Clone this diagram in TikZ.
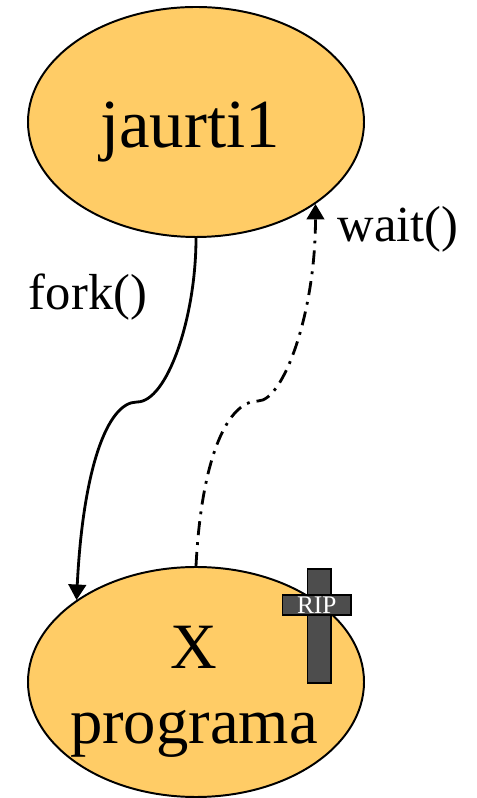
\documentclass[tikz,border=0pt]{standalone}
\usepackage{fontspec}
\setmainfont{Liberation Serif}
\usepackage{xcolor}
\usetikzlibrary{shapes.geometric,arrows.meta,calc}
\definecolor{procfill}{RGB}{255,204,102}
\definecolor{ripgray}{RGB}{77,77,77}

\begin{document}
\begin{tikzpicture}[
    proc/.style={ellipse, draw, line width=1.4pt, fill=procfill, minimum width=8.4cm, minimum height=5.75cm, inner sep=0pt},
    flow/.style={line width=2pt, -{Triangle[length=11pt, width=12.5pt]}},
    lbl/.style={anchor=base, font=\fontsize{36}{43}\selectfont}
]
    \useasboundingbox (0,0) rectangle (11.925,19.95);

    % Processes
    \node[proc] (jaurti) at (4.9,16.9) {};
    \node[proc] (prog) at (4.9,2.9) {};
    \node[anchor=base, font=\fontsize{49}{59}\selectfont] (jname) at ($(jaurti.center)+(-0.15,-0.65)$) {jaurti1};
    \node[anchor=base, font=\fontsize{46}{55}\selectfont] (xmark) at (4.85,3.225) {X};
    \node[anchor=base, font=\fontsize{46}{55}\selectfont] (pname) at (4.85,1.35) {programa};

    % Tombstone
    \draw[fill=ripgray, line width=1pt] (7.69,2.875) rectangle (8.275,5.725);
    \node[draw, fill=ripgray, line width=1pt, minimum width=1.715cm, minimum height=0.5cm, inner sep=0pt, text=white, font=\fontsize{18}{20}\selectfont] (rip) at (7.92,4.825) {RIP};

    % Bends
    \coordinate (forkbend) at (3.425,9.9);
    \coordinate (waitbend) at (6.45,9.925);

    % fork() and wait()
    \draw[flow] (jaurti.south) .. controls +(0,-2) and +(0.75,0) .. (forkbend) .. controls +(-0.75,0) and +(0.16,3.25) .. (prog.north west);
    \draw[flow, dash pattern=on 10pt off 5pt on 2pt off 5pt] (prog.north) .. controls +(0.14,2.75) and +(-0.75,0) .. (waitbend) .. controls +(0.625,0) and +(0,-2.75) .. (jaurti.south east);

    \node[lbl] (forklbl) at (2.2,12.2) {fork()};
    \node[lbl] (waitlbl) at (9.95,13.9) {wait()};
\end{tikzpicture}
\end{document}
